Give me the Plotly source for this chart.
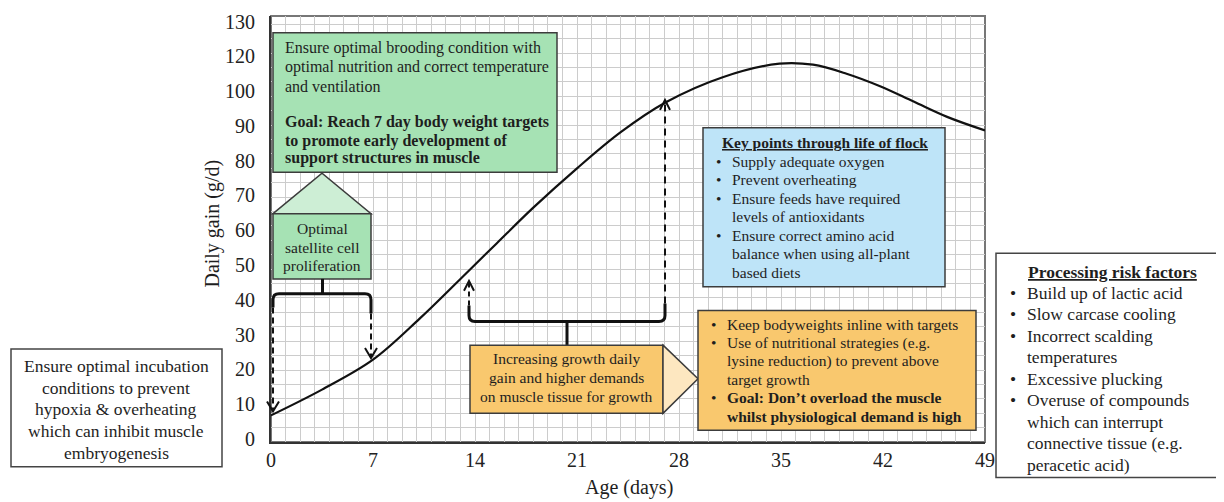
import plotly.graph_objects as go

# ---------------- data ----------------
age_days = [0, 3.5, 7, 10.2, 13, 15.5, 18, 21, 24, 27.1, 31, 34.9, 37.2, 39.5, 41.8, 44.1, 46.4, 49]
daily_gain = [6.8, 14.2, 22.8, 34.6, 46.0, 56.3, 66.5, 77.8, 88.2, 96.8, 104.0, 107.9, 107.6, 105.0, 101.4, 97.0, 92.6, 88.7]

x_tick_vals = [0, 7, 14, 21, 28, 35, 42, 49]
x_tick_labels = ["0", "7", "14", "21", "28", "35", "42", "49"]
y_tick_vals = [0, 10, 20, 30, 40, 50, 60, 70, 80, 90, 100, 110, 120]
y_tick_labels = ["0", "10", "20", "30", "40", "50", "60", "70", "80", "90", "100", "120", "130"]

x_title = "Age (days)"
y_title = "Daily gain (g/d)"

brooding_lines = ["Ensure optimal brooding condition with",
                  "optimal nutrition and correct temperature",
                  "and ventilation"]
brooding_goal = ["Goal: Reach 7 day body weight targets",
                 "to promote early development of",
                 "support structures in muscle"]
satellite_lines = ["Optimal", "satellite cell", "proliferation"]
growth_lines = ["Increasing growth daily", "gain and higher demands",
                "on muscle tissue for growth"]
target_lines = [(True, "Keep bodyweights inline with targets", False),
                (True, "Use of nutritional strategies (e.g.", False),
                (False, "lysine reduction) to prevent above", False),
                (False, "target growth", False),
                (True, "Goal: Don\u2019t overload the muscle", True),
                (False, "whilst physiological demand is high", True)]
flock_title = "Key points through life of flock"
flock_lines = [(True, "Supply adequate oxygen"),
               (True, "Prevent overheating"),
               (True, "Ensure feeds have required"),
               (False, "levels of antioxidants"),
               (True, "Ensure correct amino acid"),
               (False, "balance when using all-plant"),
               (False, "based diets")]
processing_title = "Processing risk factors"
processing_lines = [(True, "Build up of lactic acid"),
                    (True, "Slow carcase cooling"),
                    (True, "Incorrect scalding"),
                    (False, "temperatures"),
                    (True, "Excessive plucking"),
                    (True, "Overuse of compounds"),
                    (False, "which can interrupt"),
                    (False, "connective tissue (e.g."),
                    (False, "peracetic acid)")]
incubation_lines = ["Ensure optimal incubation", "conditions to prevent",
                    "hypoxia & overheating", "which can inhibit muscle",
                    "embryogenesis"]

# ---------------- style ----------------
FONT = "Liberation Serif, Times New Roman, serif"
TXT = "#1e1e1e"
GRID = "#cccccc"
EDGE = "#3c3c3c"
GREEN = "#a6e2b4"
GREEN_L = "#cdeed5"
ORANGE = "#f9c86e"
ORANGE_L = "#fde7c0"
BLUE = "#bee4f8"

W, H = 1224, 502
OFF = 8  # default page body margin
L, R, T, B = 271, 985, 11, 442


def px(x):
    return (x - L) / (R - L)


def py(y):
    return (B - y) / (B - T)


def pth(cmds):
    out = []
    for c in cmds:
        if c[0] == "Z":
            out.append("Z")
        elif c[0] == "Q":
            out.append("Q %.5f,%.5f %.5f,%.5f" % (px(c[1]), py(c[2]), px(c[3]), py(c[4])))
        else:
            out.append("%s %.5f,%.5f" % (c[0], px(c[1]), py(c[2])))
    return " ".join(out)


fig = go.Figure()
fig.add_trace(go.Scatter(x=age_days, y=daily_gain, mode="lines",
                         line=dict(color="#111111", width=2.2, shape="spline", smoothing=1.0),
                         showlegend=False, hoverinfo="skip"))
# empty trace to carry the graph-paper row grid
fig.add_trace(go.Scatter(x=[], y=[], yaxis="y2", showlegend=False, hoverinfo="skip"))

shapes = []


def rect(x0, y0, x1, y1, fill, lw=1.5, col=EDGE):
    shapes.append(dict(type="rect", xref="paper", yref="paper",
                       x0=px(x0), x1=px(x1), y0=py(y1), y1=py(y0),
                       fillcolor=fill, line=dict(color=col, width=lw), layer="above"))


def poly(cmds, fill=None, lw=1.5, col=EDGE, dash=None):
    d = dict(type="path", xref="paper", yref="paper", path=pth(cmds),
             line=dict(color=col, width=lw), layer="above")
    if fill:
        d["fillcolor"] = fill
    if dash:
        d["line"]["dash"] = dash
    shapes.append(d)


def txt(x, y, s, size, anchor="left", angle=0):
    fig.add_annotation(x=px(x), y=py(y), xref="paper", yref="paper", text=s,
                       showarrow=False, xanchor=anchor, yanchor="middle",
                       textangle=angle,
                       font=dict(family=FONT, size=size, color=TXT))


# plot frame (top/right)
shapes.append(dict(type="rect", xref="paper", yref="paper", x0=0, x1=1, y0=0, y1=1,
                   line=dict(color="#777777", width=2), layer="between"))

# green brooding box
rect(273, 28, 557, 169, GREEN)
for i, s in enumerate(brooding_lines):
    txt(283, [43, 63, 82][i], s, 16)
for i, s in enumerate(brooding_goal):
    txt(283, [118, 137, 155][i], "<b>" + s + "</b>", 16)

# satellite callout
poly([("M", 273, 211), ("L", 322, 170), ("L", 371, 211), ("Z",)], fill=GREEN_L)
rect(273, 211, 371, 277, GREEN)
for i, s in enumerate(satellite_lines):
    txt(322, [226, 245, 263][i], s, 15.5, anchor="center")

# brace 1 + arrows to day 0 and day 7
poly([("M", 322.5, 277), ("L", 322.5, 292)], lw=3, col="#111111")
poly([("M", 273, 306), ("L", 273, 298), ("Q", 273, 292, 279, 292), ("L", 365, 292),
      ("Q", 371, 292, 371, 298), ("L", 371, 312)], lw=3, col="#111111")
poly([("M", 273, 306), ("L", 273, 409)], lw=2, col="#111111", dash="6px,4px")
poly([("M", 267, 401), ("L", 273, 411), ("L", 279, 401)], lw=2, col="#111111")
poly([("M", 371, 312), ("L", 371, 355)], lw=2, col="#111111", dash="6px,4px")
poly([("M", 365, 347), ("L", 371, 357), ("L", 377, 347)], lw=2, col="#111111")

# brace 2 + arrows to day ~14 and ~28
poly([("M", 567, 320), ("L", 567, 344)], lw=3, col="#111111")
poly([("M", 469, 304), ("L", 469, 314), ("Q", 469, 320, 475, 320), ("L", 659, 320),
      ("Q", 665, 320, 665, 314), ("L", 665, 302)], lw=3, col="#111111")
poly([("M", 469, 304), ("L", 469, 281)], lw=2, col="#111111", dash="5px,4px")
poly([("M", 464, 289), ("L", 469, 279), ("L", 474, 289)], lw=2, col="#111111")
poly([("M", 665, 302), ("L", 665, 98)], lw=2, col="#111111", dash="7px,5px")
poly([("M", 660, 106), ("L", 665, 96), ("L", 670, 106)], lw=2, col="#111111")

# orange growth callout
rect(470, 344, 663, 413, ORANGE)
poly([("M", 663, 344), ("L", 698, 378), ("L", 663, 413), ("Z",)], fill=ORANGE_L)
for i, s in enumerate(growth_lines):
    txt(566, [358, 377, 396][i], s, 15.5, anchor="center")

# orange targets box
rect(698, 309, 976, 430, ORANGE)
for i, (b, s, bold) in enumerate(target_lines):
    yy = 323 + i * 18.6
    if b:
        txt(709, yy, "\u2022", 15.5)
    txt(725, yy, "<b>" + s + "</b>" if bold else s, 15.5)

# blue key points box
rect(703, 124, 945, 285, BLUE)
txt(825, 139, "<b><u>" + flock_title + "</u></b>", 15.5, anchor="center")
for i, (b, s) in enumerate(flock_lines):
    yy = 158 + i * 18.7
    if b:
        txt(714, yy, "\u2022", 15.5)
    txt(730, yy, s, 15.5)

# processing box
rect(996, 251, 1222, 478, "white", col="#444444")
txt(1112, 270, "<b><u>" + processing_title + "</u></b>", 17.5, anchor="center")
for i, (b, s) in enumerate(processing_lines):
    yy = 291 + i * 21.75
    if b:
        txt(1008, yy, "\u2022", 17.5)
    txt(1025, yy, s, 17.5)

# incubation box
rect(11, 348, 222, 467, "white", col="#444444")
for i, s in enumerate(incubation_lines):
    txt(116, 365 + i * 22, s, 17.5, anchor="center")

# axis titles
txt(213, 221, y_title, 20, anchor="center", angle=-90)
txt(629, 488, x_title, 20, anchor="center")

tickfont = dict(family=FONT, size=20, color="#222222")
fig.update_layout(
    width=W - OFF, height=H - OFF,
    margin=dict(l=L - OFF, r=W - R, t=T - OFF, b=H - B, pad=0),
    paper_bgcolor="white", plot_bgcolor="white",
    showlegend=False,
    shapes=shapes,
    xaxis=dict(range=[0, 49], tickmode="array", tickvals=x_tick_vals, ticktext=x_tick_labels,
               showgrid=True, gridcolor=GRID, gridwidth=1,
               minor=dict(dtick=1, tick0=0, showgrid=True, gridcolor=GRID, gridwidth=1),
               showline=True, linecolor="#333333", linewidth=2, ticks="",
               zeroline=False, tickfont=tickfont, ticklabelstandoff=-1, fixedrange=True),
    yaxis=dict(range=[(439 - B) / 3.52, (439 - T) / 3.52], tickmode="array",
               tickvals=y_tick_vals, ticktext=y_tick_labels, showgrid=False,
               showline=True, linecolor="#333333", linewidth=2, ticks="",
               zeroline=False, tickfont=tickfont, ticklabelstandoff=10,
               ticklabeloverflow="allow", fixedrange=True),
    yaxis2=dict(overlaying="y", range=[0, (B - T) / 14.57], dtick=1, tick0=0,
                showgrid=True, gridcolor=GRID, gridwidth=1, showticklabels=False,
                showline=False, zeroline=False, ticks="", fixedrange=True),
)

fig.write_html("out.html")
